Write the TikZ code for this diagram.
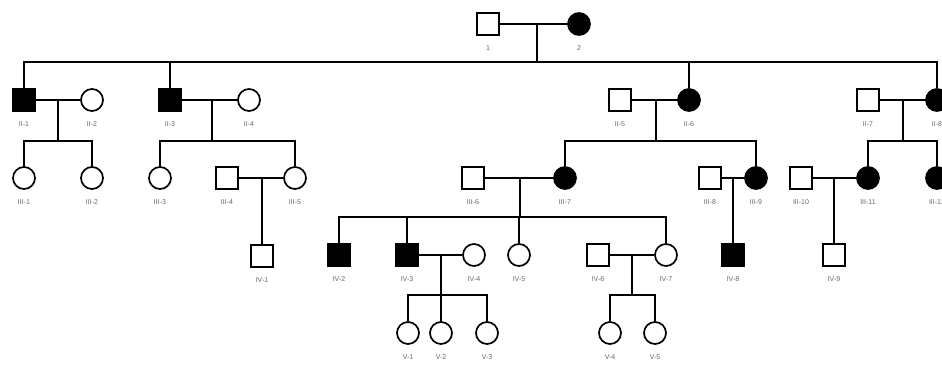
\documentclass[tikz,border=0pt]{standalone}
\usepackage{fontspec}
\setmainfont{Liberation Sans}
\begin{document}
\begin{tikzpicture}[x=1pt,y=-1pt,
  line width=1.7pt,
  lbl/.style={font=\fontsize{7}{8}\selectfont, text=black!60, label distance=6pt},
  male/.style={draw=black, rectangle, minimum size=22pt, inner sep=0pt, line width=1.7pt, fill=white},
  female/.style={draw=black, circle, minimum size=22pt, inner sep=0pt, line width=1.7pt, fill=white},
  aff/.style={fill=black},
  line/.style={draw=black, line width=1.7pt}]
\useasboundingbox (0,0) rectangle (942,376);
\clip (0,0) rectangle (942,376);
\fill[white] (0,0) rectangle (942,376);

% Generation I
\node[male] (I1) at (488,24) [label={[lbl]below:1}] {};
\node[female,aff] (I2) at (579,24) [label={[lbl]below:2}] {};

% Generation II
\node[male,aff] (II1) at (24,100) [label={[lbl]below:II-1}] {};
\node[female] (II2) at (92,100) [label={[lbl]below:II-2}] {};
\node[male,aff] (II3) at (170,100) [label={[lbl]below:II-3}] {};
\node[female] (II4) at (249,100) [label={[lbl]below:II-4}] {};
\node[male] (II5) at (620,100) [label={[lbl]below:II-5}] {};
\node[female,aff] (II6) at (689,100) [label={[lbl]below:II-6}] {};
\node[male] (II7) at (868,100) [label={[lbl]below:II-7}] {};
\node[female,aff] (II8) at (937,100) [label={[lbl]below:II-8}] {};

% Generation III
\node[female] (III1) at (24,178) [label={[lbl]below:III-1}] {};
\node[female] (III2) at (92,178) [label={[lbl]below:III-2}] {};
\node[female] (III3) at (160,178) [label={[lbl]below:III-3}] {};
\node[male] (III4) at (227,178) [label={[lbl]below:III-4}] {};
\node[female] (III5) at (295,178) [label={[lbl]below:III-5}] {};
\node[male] (III6) at (473,178) [label={[lbl]below:III-6}] {};
\node[female,aff] (III7) at (565,178) [label={[lbl]below:III-7}] {};
\node[male] (III8) at (710,178) [label={[lbl]below:III-8}] {};
\node[female,aff] (III9) at (756,178) [label={[lbl]below:III-9}] {};
\node[male] (III10) at (801,178) [label={[lbl]below:III-10}] {};
\node[female,aff] (III11) at (868,178) [label={[lbl]below:III-11}] {};
\node[female,aff] (III12) at (937,178) [label={[lbl]below:III-12}] {};

% Generation IV
\node[male] (IV1) at (262,256) [label={[lbl]below:IV-1}] {};
\node[male,aff] (IV2) at (339,255) [label={[lbl]below:IV-2}] {};
\node[male,aff] (IV3) at (407,255) [label={[lbl]below:IV-3}] {};
\node[female] (IV4) at (474,255) [label={[lbl]below:IV-4}] {};
\node[female] (IV5) at (519,255) [label={[lbl]below:IV-5}] {};
\node[male] (IV6) at (598,255) [label={[lbl]below:IV-6}] {};
\node[female] (IV7) at (666,255) [label={[lbl]below:IV-7}] {};
\node[male,aff] (IV8) at (733,255) [label={[lbl]below:IV-8}] {};
\node[male] (IV9) at (834,255) [label={[lbl]below:IV-9}] {};

% Generation V
\node[female] (V1) at (408,333) [label={[lbl]below:V-1}] {};
\node[female] (V2) at (441,333) [label={[lbl]below:V-2}] {};
\node[female] (V3) at (487,333) [label={[lbl]below:V-3}] {};
\node[female] (V4) at (610,333) [label={[lbl]below:V-4}] {};
\node[female] (V5) at (655,333) [label={[lbl]below:V-5}] {};

% sibship coordinates
\coordinate (sI) at (537,62);
\coordinate (s12) at (58,141);
\coordinate (s34) at (212,141);
\coordinate (s56) at (656,141);
\coordinate (s78) at (903,141);
\coordinate (sIII67) at (520,217);
\coordinate (sIV34) at (441,295);
\coordinate (sIV67) at (632,295);

% Generation I marriage and descent
\draw[line] (I1) -- (I2);
\draw[line] (I1 -| sI) -- (sI);
\draw[line] (II1.north) -- (II1 |- sI) -- (II8 |- sI) -- (II8.north);
\draw[line] (II3.north) -- (II3 |- sI);
\draw[line] (II6.north) -- (II6 |- sI);

% Generation II marriages
\draw[line] (II1) -- (II2);
\draw[line] (II1 -| s12) -- (s12);
\draw[line] (III1.north) -- (III1 |- s12) -- (III2 |- s12) -- (III2.north);

\draw[line] (II3) -- (II4);
\draw[line] (II3 -| s34) -- (s34);
\draw[line] (III3.north) -- (III3 |- s34) -- (III5 |- s34) -- (III5.north);

\draw[line] (II5) -- (II6);
\draw[line] (II5 -| s56) -- (s56);
\draw[line] (III7.north) -- (III7 |- s56) -- (III9 |- s56) -- (III9.north);

\draw[line] (II7) -- (II8);
\draw[line] (II7 -| s78) -- (s78);
\draw[line] (III11.north) -- (III11 |- s78) -- (III12 |- s78) -- (III12.north);

% Generation III marriages
\draw[line] (III4) -- (III5);
\draw[line] (III4 -| IV1) -- (IV1.north);

\draw[line] (III6) -- (III7);
\draw[line] (III6 -| sIII67) -- (sIII67);
\draw[line] (IV2.north) -- (IV2 |- sIII67) -- (IV7 |- sIII67) -- (IV7.north);
\draw[line] (IV3.north) -- (IV3 |- sIII67);
\draw[line] (IV5.north) -- (IV5 |- sIII67);

\draw[line] (III8) -- (III9);
\draw[line] (III8 -| IV8) -- (IV8.north);

\draw[line] (III10) -- (III11);
\draw[line] (III10 -| IV9) -- (IV9.north);

% Generation IV marriages
\draw[line] (IV3) -- (IV4);
\draw[line] (IV3 -| sIV34) -- (sIV34);
\draw[line] (V1.north) -- (V1 |- sIV34) -- (V3 |- sIV34) -- (V3.north);
\draw[line] (V2.north) -- (V2 |- sIV34);

\draw[line] (IV6) -- (IV7);
\draw[line] (IV6 -| sIV67) -- (sIV67);
\draw[line] (V4.north) -- (V4 |- sIV67) -- (V5 |- sIV67) -- (V5.north);
\end{tikzpicture}
\end{document}
